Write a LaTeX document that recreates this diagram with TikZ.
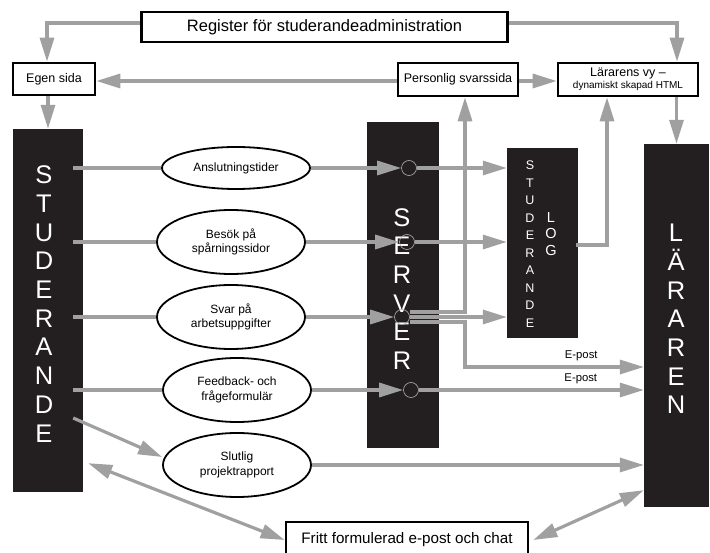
\documentclass[tikz,border=0pt]{standalone}
\usepackage{fontspec}
\setmainfont{Liberation Sans}
\usetikzlibrary{arrows.meta,shapes.geometric,calc}
\definecolor{pipeGray}{RGB}{160,160,160}
\definecolor{towerBlack}{RGB}{35,31,32}
\tikzset{
    every node/.append style={align=center},
    pane/.style={rectangle,draw=black,line width=2.6pt,fill=white,inner sep=2pt,
        font=\fontsize{12.5}{14}\selectfont},
    tower/.style={rectangle,fill=towerBlack,inner sep=0pt},
    towertext/.style={text=white,inner sep=0pt,font=\fontsize{25.5}{28.7}\selectfont},
    logtext/.style={text=white,inner sep=0pt,font=\fontsize{12.5}{17.5}\selectfont},
    flow/.style={ellipse,draw=black,line width=1.8pt,fill=white,minimum width=148pt,
        minimum height=64pt,inner sep=0pt,font=\fontsize{12}{14.5}\selectfont},
    hub/.style={circle,draw=pipeGray!85,line width=0.6pt,minimum size=15pt,inner sep=0pt},
    pipe/.style={draw=pipeGray,line width=3.2pt},
    arr/.style={pipe,-{Triangle[length=24pt,width=14pt]}},
    darr/.style={pipe,{Triangle[length=24pt,width=14pt]}-{Triangle[length=24pt,width=14pt]}},
    lbl/.style={font=\fontsize{11.3}{13}\selectfont,inner sep=1pt}
}
\begin{document}
\begin{tikzpicture}[x=1pt,y=-1pt]
    \useasboundingbox (0,0) rectangle (710,553);
    % top row of pages
    \node[pane,minimum width=366pt,minimum height=30pt,font=\fontsize{16.5}{18}\selectfont] (reg) at (324.5,27) {Register för studerandeadministration};
    \node[pane,minimum width=82pt,minimum height=32pt]  (egen) at (54,79)    {Egen sida};
    \node[pane,minimum width=120pt,minimum height=33pt] (pers) at (458,79.5) {Personlig svarssida};
    \node[pane,minimum width=140pt,minimum height=33pt,font=\fontsize{12.5}{12}\selectfont] (vy) at (628,79.5)
        {Lärarens vy –\\{\fontsize{10}{11}\selectfont dynamiskt skapad HTML}};
    \node[pane,minimum width=242pt,minimum height=36pt,font=\fontsize{15.2}{17}\selectfont] (fritt) at (407,540) {Fritt formulerad e-post och chat};

    % black columns
    \node[tower,minimum width=70pt,minimum height=363pt] (stud)   at (48,310.5) {};
    \node[tower,minimum width=72pt,minimum height=326pt] (server) at (403,285)  {};
    \node[tower,minimum width=71pt,minimum height=190pt] (log)    at (542.5,243) {};
    \node[tower,minimum width=65pt,minimum height=363pt] (larare) at (676.5,325.5) {};
    \node[towertext] (studtxt)   at (44,304)  {S\\T\\U\\D\\E\\R\\A\\N\\D\\E};
    \node[towertext] (servertxt) at (402,289) {S\\E\\R\\V\\E\\R};
    \node[towertext] (lararetxt) at (676,319) {L\\Ä\\R\\A\\R\\E\\N};
    \node[logtext] (logtxt)  at (530,244) {S\\T\\U\\D\\E\\R\\A\\N\\D\\E};
    \node[logtext,font=\fontsize{14.5}{16.5}\selectfont] (logtxt2) at (551,234) {L\\O\\G};

    % what the student does
    \node[flow,minimum height=42pt] (ans)  at (236,168) {Anslutningstider};
    \node[flow] (bes)  at (231,242) {Besök på\\spårningssidor};
    \node[flow] (svar) at (231,317) {Svar på\\arbetsuppgifter};
    \node[flow] (feed) at (237,390) {Feedback- och\\frågeformulär};
    \node[flow] (slut) at (237,465) {Slutlig\\projektrapport};

    % taps on the server
    \node[hub] (c1) at (409,168) {};
    \node[hub] (c2) at (407,242) {};
    \node[hub] (c3) at (402,317) {};
    \node[hub] (c4) at (411,390) {};
    \coordinate (mailbend) at (465,367);

    \draw[arr] ($(reg.west)+(0,-4)$) -| ($(egen.north)+(-7,0)$);
    \draw[arr] ($(reg.east)+(0,-4)$) -| ($(vy.north)+(49,0)$);
    \draw[arr] (egen.south-|stud.north) -- (stud.north);
    \draw[arr] ($(pers.west)+(0,1.5)$) -- ($(pers.west-|egen.east)+(0,1.5)$);
    \draw[arr] ($(pers.east)+(0,1.5)$) -- ($(pers.east-|vy.west)+(0,1.5)$);
    \draw[arr] (vy.south-|larare.north) -- (larare.north);

    \draw[pipe] ($(stud.east|-ans)+(-10,0)$)  -- (ans.west);
    \draw[pipe] ($(stud.east|-bes)+(-10,0)$)  -- (bes.west);
    \draw[pipe] ($(stud.east|-svar)+(-10,0)$) -- (svar.west);
    \draw[pipe] ($(stud.east|-feed)+(-10,0)$) -- (feed.west);
    \draw[arr] ($(stud.east|-slut)+(-10,-47)$) -- ($(slut.west)+(0,-8)$);

    \draw[arr] (ans.east)  -- (c1.west);
    \draw[arr] (bes.east)  -- (c2.west);
    \draw[arr] (svar.east) -- (c3.west);
    \draw[arr] (feed.east) -- (c4.west);

    \draw[arr] (c1.east) -- (log.west|-c1);
    \draw[arr] (c2.east) -- (log.west|-c2);
    \draw[arr] (c3.east) -- (log.west|-c3);
    \draw[arr] ($(c3.east)+(0,-5)$) -| ($(pers.south)+(7,0)$);
    \draw[arr] ($(c3.east)+(0,5)$) -| (mailbend) -- node[lbl,above=4pt,pos=0.65]{E-post} (larare.west|-mailbend);
    \draw[arr] (c4.east) -- node[lbl,above=4pt,pos=0.72]{E-post} (larare.west|-c4);
    \draw[arr] ($(log.east)+(-2,2)$) -| ($(vy.south)+(-21,0)$);

    \draw[arr]  (slut.east) -- (slut.east-|larare.west);
    \draw[darr] ($(stud.south east)+(5,-29)$) -- (fritt.west);
    \draw[darr] ($(fritt.east)+(4,0)$) -- ($(larare.south west)+(0,-17)$);
\end{tikzpicture}
\end{document}
